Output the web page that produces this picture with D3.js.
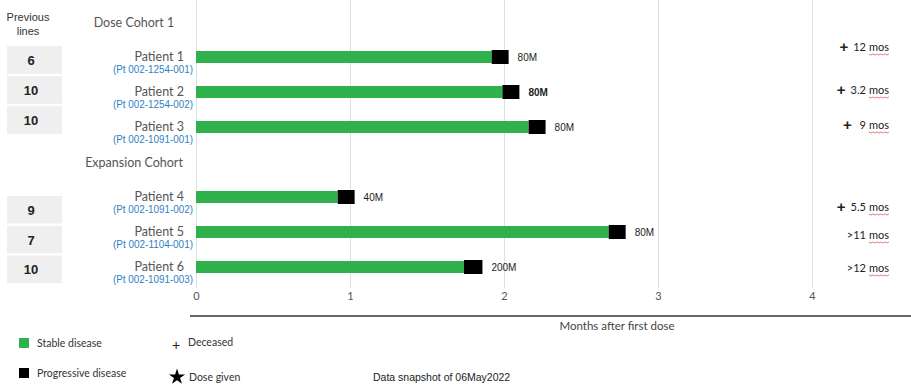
<!DOCTYPE html>
<html>
<head>
<meta charset="utf-8">
<script src="https://cdn.jsdelivr.net/npm/d3@7"></script>
<style>
  html, body { margin: 0; padding: 0; background: #fff; }
  svg { display: block; }
</style>
</head>
<body>
<svg id="chart" width="911" height="387"></svg>
<script>
// ---- data ----
const cohorts = ["Dose Cohort 1", "Expansion Cohort"];
const patients = ["Patient 1", "Patient 2", "Patient 3", "Patient 4", "Patient 5", "Patient 6"];
const patientIds = ["(Pt 002-1254-001)", "(Pt 002-1254-002)", "(Pt 002-1091-001)",
                    "(Pt 002-1091-002)", "(Pt 002-1104-001)", "(Pt 002-1091-003)"];
const patientCohort = [0, 0, 0, 1, 1, 1];
const previousLines = [6, 10, 10, 9, 7, 10];
const stableMonths = [1.92, 1.99, 2.16, 0.92, 2.68, 1.74];      // end of green segment
const progressiveEnd = [2.03, 2.10, 2.27, 1.03, 2.79, 1.86];    // end of black segment
const doses = ["80M", "80M", "80M", "40M", "80M", "200M"];
const deceased = [true, true, true, true, false, false];
const survival = ["12", "3.2", " 9", "5.5", ">11", ">12"];
const xTicks = [0, 1, 2, 3, 4];

// ---- layout ----
const green = "#2fb24c";
const svg = d3.select("#chart");

// row slots: each cohort header followed by its patients
const rows = [];
cohorts.forEach(function (c, ci) {
    rows.push(c);
    patients.forEach(function (p, i) { if (patientCohort[i] === ci) rows.push(p); });
});

const x = d3.scaleLinear().domain([0, 4]).range([196, 812]);
const y = d3.scaleBand().domain(rows).range([4.5, 284.5]);
const cy = function (key) { return y(key) + y.bandwidth() / 2; };
const barH = 12;

/* vertical gridlines */
svg.append("g")
    .attr("transform", "translate(0,288)")
    .call(d3.axisBottom(x).tickValues(xTicks).tickSize(-288).tickFormat(""))
    .call(function (g) { g.select(".domain").remove(); })
    .selectAll("line").attr("stroke", "#dedede").attr("stroke-width", 1);

/* tick labels */
svg.append("g")
    .attr("transform", "translate(0,289)")
    .call(d3.axisBottom(x).tickValues(xTicks).tickSize(0).tickPadding(3).tickFormat(d3.format("d")))
    .call(function (g) { g.select(".domain").remove(); })
    .selectAll("text")
    .attr("font-family", "Lato, sans-serif")
    .attr("font-size", "11px")
    .attr("fill", "#555");

/* axis line + title */
svg.append("line")
    .attr("x1", 190).attr("x2", 911)
    .attr("y1", 316).attr("y2", 316)
    .attr("stroke", "#333").attr("stroke-width", 1.4);

svg.append("text")
    .attr("x", 617).attr("y", 330)
    .attr("text-anchor", "middle")
    .attr("font-family", "Lato, sans-serif")
    .attr("font-size", "11.5px")
    .attr("fill", "#444")
    .text("Months after first dose");

/* cohort headers */
svg.selectAll("text.cohort")
    .data(cohorts)
    .enter()
    .append("text")
    .attr("class", "cohort")
    .attr("x", 134)
    .attr("y", function (d) { return cy(d) + 5; })
    .attr("text-anchor", "middle")
    .attr("font-family", "Lato, sans-serif")
    .attr("font-size", "12.5px")
    .attr("fill", "#555")
    .text(function (d) { return d; });

/* patient labels */
svg.selectAll("text.patient")
    .data(patients)
    .enter()
    .append("text")
    .attr("class", "patient")
    .attr("x", 184)
    .attr("y", function (d) { return cy(d) + 4; })
    .attr("text-anchor", "end")
    .attr("font-family", "Lato, sans-serif")
    .attr("font-size", "12.5px")
    .attr("fill", "#555")
    .text(function (d) { return d; });

svg.selectAll("text.pid")
    .data(patients)
    .enter()
    .append("text")
    .attr("class", "pid")
    .attr("x", 193)
    .attr("y", function (d) { return cy(d) + 15.5; })
    .attr("text-anchor", "end")
    .attr("font-family", "'Liberation Sans Narrow', 'Liberation Sans', sans-serif")
    .attr("font-size", "10px")
    .attr("textLength", 80)
    .attr("lengthAdjust", "spacingAndGlyphs")
    .attr("fill", "#2f7fc4")
    .text(function (d, i) { return patientIds[i]; });

/* bars: stable (green) then progressive (black) */
svg.selectAll("rect.stable")
    .data(patients)
    .enter()
    .append("rect")
    .attr("class", "stable")
    .attr("x", x(0))
    .attr("y", function (d) { return cy(d) - barH / 2; })
    .attr("width", function (d, i) { return x(stableMonths[i]) - x(0); })
    .attr("height", barH)
    .attr("fill", green);

svg.selectAll("rect.progressive")
    .data(patients)
    .enter()
    .append("rect")
    .attr("class", "progressive")
    .attr("x", function (d, i) { return x(stableMonths[i]); })
    .attr("y", function (d) { return cy(d) - barH / 2 - 1; })
    .attr("width", function (d, i) { return x(progressiveEnd[i]) - x(stableMonths[i]); })
    .attr("height", barH + 2)
    .attr("fill", "#000");

/* dose labels */
svg.selectAll("text.dose")
    .data(patients)
    .enter()
    .append("text")
    .attr("class", "dose")
    .attr("x", function (d, i) { return x(progressiveEnd[i]) + 9; })
    .attr("y", function (d) { return cy(d) + 4; })
    .attr("font-family", "'Liberation Sans', Arial, sans-serif")
    .attr("font-size", "10px")
    .attr("font-weight", function (d, i) { return i === 1 ? "bold" : "normal"; }) // pt 2 is bold in the source
    .attr("fill", "#222")
    .text(function (d, i) { return doses[i]; });

/* previous lines column */
svg.append("text")
    .attr("x", 28).attr("y", 21)
    .attr("text-anchor", "middle")
    .attr("font-family", "'Liberation Sans', Arial, sans-serif")
    .attr("font-size", "11px")
    .attr("fill", "#333")
    .text("Previous");
svg.append("text")
    .attr("x", 28).attr("y", 35)
    .attr("text-anchor", "middle")
    .attr("font-family", "'Liberation Sans', Arial, sans-serif")
    .attr("font-size", "11px")
    .attr("fill", "#333")
    .text("lines");

const prevRanges = [[46, 134], [196, 283]];
const prevScales = cohorts.map(function (c, ci) {
    return d3.scaleBand()
        .domain(patients.filter(function (p, i) { return patientCohort[i] === ci; }))
        .range(prevRanges[ci])
        .paddingInner(0.08);
});
const prevY = function (d, i) { return prevScales[patientCohort[i]](d); };
const prevH = function (d, i) { return prevScales[patientCohort[i]].bandwidth(); };

svg.selectAll("rect.prev")
    .data(patients)
    .enter()
    .append("rect")
    .attr("class", "prev")
    .attr("x", 7)
    .attr("y", prevY)
    .attr("width", 55)
    .attr("height", prevH)
    .attr("fill", "#efefef");

svg.selectAll("text.prev")
    .data(patients)
    .enter()
    .append("text")
    .attr("class", "prev")
    .attr("x", 31)
    .attr("y", function (d, i) { return prevY(d, i) + prevH(d, i) / 2 + 5; })
    .attr("text-anchor", "middle")
    .attr("font-family", "'Liberation Sans', Arial, sans-serif")
    .attr("font-size", "13px")
    .attr("font-weight", "bold")
    .attr("fill", "#222")
    .text(function (d, i) { return previousLines[i]; });

/* survival notes on the right; hand nudges follow the source layout */
const noteNudge = [-10, -2, -2, 10, 3, 1];
const noteRight = 889;
patients.forEach(function (p, i) {
    let yy = cy(p) + noteNudge[i] + 4;
    let g = svg.append("g");
    let mos = g.append("text")
        .attr("x", noteRight).attr("y", yy)
        .attr("text-anchor", "end")
        .attr("font-family", "Lato, sans-serif")
        .attr("font-size", "11px")
        .attr("fill", "#222")
        .text("mos");
    let w = mos.node().getComputedTextLength();
    // red squiggle under "mos" (spell-check mark in the source)
    let pts = [];
    for (let k = 0; k <= Math.round(w / 2); k++) {
        pts.push([noteRight - w + k * 2, yy + 3 + (k % 2 ? 1 : 0)]);
    }
    g.append("path")
        .attr("d", d3.line()(pts))
        .attr("fill", "none")
        .attr("stroke", "#e05a5a")
        .attr("stroke-width", 0.8);
    let num = g.append("text")
        .attr("x", noteRight - w - 3).attr("y", yy)
        .attr("text-anchor", "end")
        .attr("font-family", "Lato, sans-serif")
        .attr("font-size", "11px")
        .attr("fill", "#222")
        .attr("xml:space", "preserve")
        .style("white-space", "pre")
        .text(survival[i]);
    if (deceased[i]) {
        let nw = num.node().getComputedTextLength();
        g.append("text")
            .attr("x", noteRight - w - 3 - nw - 5).attr("y", yy + 1)
            .attr("text-anchor", "end")
            .attr("font-family", "'Liberation Sans', Arial, sans-serif")
            .attr("font-size", "15px")
            .attr("font-weight", "bold")
            .attr("fill", "#222")
            .text("+");
    }
});

/* legend */
const legendFont = "Lato, sans-serif";
svg.append("rect").attr("x", 19).attr("y", 338).attr("width", 10).attr("height", 10).attr("fill", green);
svg.append("text").attr("x", 37).attr("y", 347)
    .attr("font-family", legendFont).attr("font-size", "10.5px").attr("fill", "#333")
    .text("Stable disease");
svg.append("rect").attr("x", 19).attr("y", 368).attr("width", 10).attr("height", 10).attr("fill", "#000");
svg.append("text").attr("x", 37).attr("y", 377)
    .attr("font-family", legendFont).attr("font-size", "10.5px").attr("fill", "#333")
    .text("Progressive disease");

svg.append("text").attr("x", 176).attr("y", 350)
    .attr("text-anchor", "middle")
    .attr("font-family", "'Liberation Sans', Arial, sans-serif").attr("font-size", "14px").attr("fill", "#222")
    .text("+");
svg.append("text").attr("x", 188).attr("y", 346)
    .attr("font-family", legendFont).attr("font-size", "10.5px").attr("fill", "#333")
    .text("Deceased");
svg.append("path")
    .attr("d", d3.symbol().type(d3.symbolStar).size(80)())
    .attr("transform", "translate(177,377)")
    .attr("fill", "#000");
svg.append("text").attr("x", 189).attr("y", 381)
    .attr("font-family", legendFont).attr("font-size", "10.5px").attr("fill", "#333")
    .text("Dose given");

svg.append("text").attr("x", 373).attr("y", 381)
    .attr("font-family", "'Liberation Sans', Arial, sans-serif").attr("font-size", "10.5px").attr("fill", "#222")
    .text("Data snapshot of 06May2022");
</script>
</body>
</html>
